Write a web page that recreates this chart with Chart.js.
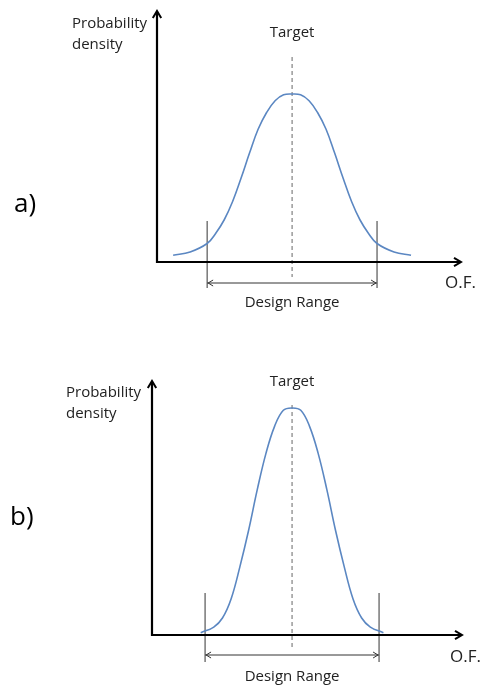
<!DOCTYPE html>
<html>
<head>
<meta charset="utf-8">
<script src="https://cdn.jsdelivr.net/npm/chart.js@4"></script>
<style>
  html, body { margin: 0; padding: 0; background: #fff; }
  .panel { position: relative; width: 484px; height: 343px; }
  canvas { display: block; }
</style>
</head>
<body>
<div class="panel"><canvas id="chartA" width="484" height="343"></canvas></div>
<div class="panel"><canvas id="chartB" width="484" height="343"></canvas></div>
<script>
// O.F. values (target at 0, design range -2..2)
var target = 0;
var designRange = [-2, 2];

// a) wide distribution
var ofA = [-2.8, -2.4, -2.0, -1.8, -1.6, -1.4, -1.2, -1.0, -0.8, -0.6, -0.4, -0.2, 0, 0.2, 0.4, 0.6, 0.8, 1.0, 1.2, 1.4, 1.6, 1.8, 2.0, 2.4, 2.8];
var densA = [0.04, 0.06, 0.11, 0.17, 0.25, 0.36, 0.5, 0.65, 0.79, 0.89, 0.96, 0.995, 1.0, 0.995, 0.96, 0.89, 0.79, 0.65, 0.5, 0.36, 0.25, 0.17, 0.11, 0.06, 0.04];

// b) narrow distribution
var ofB = [-2.1, -1.8, -1.6, -1.4, -1.2, -1.0, -0.8, -0.6, -0.4, -0.2, 0, 0.2, 0.4, 0.6, 0.8, 1.0, 1.2, 1.4, 1.6, 1.8, 2.1];
var densB = [0.01, 0.035, 0.075, 0.16, 0.3, 0.46, 0.64, 0.8, 0.92, 0.99, 1.0, 0.99, 0.92, 0.8, 0.64, 0.46, 0.3, 0.16, 0.075, 0.035, 0.01];

var FONT = "Open Sans, Calibri, sans-serif";

function arrowHead(ctx, x, y, dir, size) {
    // dir: 'up', 'right', 'left'
    ctx.beginPath();
    if (dir === 'up') {
        ctx.moveTo(x - size * 0.6, y + size);
        ctx.lineTo(x, y);
        ctx.lineTo(x + size * 0.6, y + size);
    } else if (dir === 'right') {
        ctx.moveTo(x - size, y - size * 0.6);
        ctx.lineTo(x, y);
        ctx.lineTo(x - size, y + size * 0.6);
    } else {
        ctx.moveTo(x + size, y - size * 0.6);
        ctx.lineTo(x, y);
        ctx.lineTo(x + size, y + size * 0.6);
    }
    ctx.stroke();
}

function sketchPlugin(opt) {
    return {
        id: 'sketch',
        beforeDatasetsDraw: function (chart) {
            var ctx = chart.ctx;
            var xs = chart.scales.x, ys = chart.scales.y;
            var area = chart.chartArea;
            var x0 = area.left, y0 = ys.getPixelForValue(0);
            var xt = xs.getPixelForValue(target);
            var xl = xs.getPixelForValue(designRange[0]);
            var xr = xs.getPixelForValue(designRange[1]);
            ctx.save();

            // target dashed line
            ctx.strokeStyle = '#666';
            ctx.lineWidth = 1;
            ctx.setLineDash([4, 3]);
            ctx.beginPath();
            ctx.moveTo(xt, opt.dashTop);
            ctx.lineTo(xt, y0 + opt.dashBelow);
            ctx.stroke();
            ctx.setLineDash([]);

            // design range
            ctx.strokeStyle = '#333';
            ctx.beginPath();
            ctx.moveTo(xl, y0 - opt.rangeAbove);
            ctx.lineTo(xl, y0 + opt.rangeBelow);
            ctx.moveTo(xr, y0 - opt.rangeAbove);
            ctx.lineTo(xr, y0 + opt.rangeBelow);
            ctx.moveTo(xl, y0 + opt.rangeArrow);
            ctx.lineTo(xr, y0 + opt.rangeArrow);
            ctx.stroke();
            arrowHead(ctx, xl + 1, y0 + opt.rangeArrow, 'left', 5);
            arrowHead(ctx, xr - 1, y0 + opt.rangeArrow, 'right', 5);

            // axes
            ctx.strokeStyle = '#000';
            ctx.lineWidth = 2.2;
            ctx.beginPath();
            ctx.moveTo(x0, area.top + 2);
            ctx.lineTo(x0, y0);
            ctx.lineTo(area.right - 2, y0);
            ctx.stroke();
            ctx.lineWidth = 2;
            arrowHead(ctx, x0, area.top + 1, 'up', 7);
            arrowHead(ctx, area.right - 1, y0, 'right', 7);

            // texts
            ctx.fillStyle = '#222';
            ctx.textBaseline = 'middle';
            ctx.textAlign = 'center';
            ctx.font = '15px ' + FONT;
            ctx.fillText('Target', xt, opt.targetY);
            ctx.fillText('Design Range', xt, y0 + opt.rangeText);
            ctx.textAlign = 'left';
            ctx.fillText('Probability', opt.probX, opt.probY);
            ctx.fillText('density', opt.probX, opt.probY + 21);
            ctx.font = '17px ' + FONT;
            ctx.fillText('O.F.', opt.ofX, y0 + opt.ofDy);
            ctx.font = '26px ' + FONT;
            ctx.fillStyle = '#000';
            ctx.fillText(opt.tag, opt.tagX, opt.tagY);
            ctx.restore();
        }
    };
}

function makeChart(id, xData, yData, xmin, xmax, ymax, pad, opt) {
    var pts = xData.map(function (v, i) { return { x: v, y: yData[i] }; });
    return new Chart(document.getElementById(id), {
        type: 'line',
        data: {
            datasets: [{
                data: pts,
                borderColor: '#5b87c2',
                borderWidth: 1.6,
                pointRadius: 0,
                tension: 0.4,
                fill: false
            }]
        },
        options: {
            responsive: false,
            animation: false,
            layout: { padding: pad },
            plugins: { legend: { display: false }, tooltip: { enabled: false } },
            scales: {
                x: { type: 'linear', display: false, min: xmin, max: xmax },
                y: { display: false, min: 0, max: ymax }
            }
        },
        plugins: [sketchPlugin(opt)]
    });
}

makeChart('chartA', ofA, densA, -3.18, 4.0, 1.5,
    { left: 157, right: 22, top: 10, bottom: 81 },
    { dashTop: 57, dashBelow: 15, rangeAbove: 41, rangeBelow: 26, rangeArrow: 21, rangeText: 41,
      targetY: 33, probX: 72, probY: 24, ofX: 445, ofDy: 21, tag: 'a)', tagX: 14, tagY: 205 });

makeChart('chartB', ofB, densB, -3.22, 3.93, 1.123,
    { left: 152, right: 21, top: 37, bottom: 51 },
    { dashTop: 62, dashBelow: 13, rangeAbove: 42, rangeBelow: 27, rangeArrow: 20, rangeText: 42,
      targetY: 39, probX: 66, probY: 50, ofX: 450, ofDy: 22, tag: 'b)', tagX: 10, tagY: 175 });
</script>
</body>
</html>
